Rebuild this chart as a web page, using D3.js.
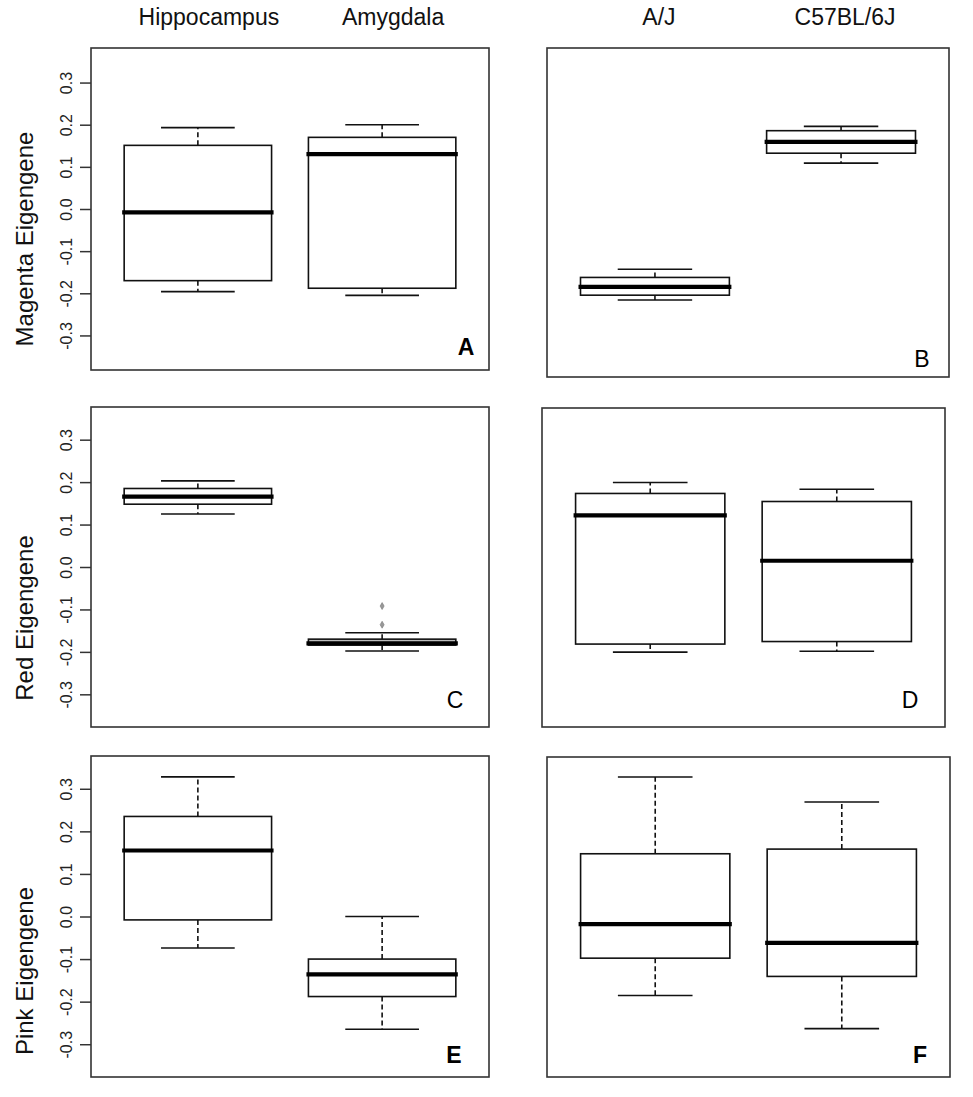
<!DOCTYPE html>
<html>
<head>
<meta charset="utf-8">
<script src="https://cdn.jsdelivr.net/npm/d3@7/dist/d3.min.js"></script>
<style>
body { margin: 0; background: #fff; }
svg { font-family: "Liberation Sans", Arial, sans-serif; }
</style>
</head>
<body>
<svg id="mainSvg" width="973" height="1097"></svg>
<script>
// group names
var tissueGroups = ["Hippocampus", "Amygdala"];
var strainGroups = ["A/J", "C57BL/6J"];

// box stats per group: [lower whisker, Q1, median, Q3, upper whisker]
var magentaTissue = [[-0.196, -0.170, -0.008, 0.151, 0.193], [-0.205, -0.188, 0.130, 0.170, 0.200]];
var magentaStrain = [[-0.202, -0.191, -0.172, -0.150, -0.131], [0.114, 0.137, 0.163, 0.189, 0.199]];
var redTissue = [[0.125, 0.148, 0.166, 0.185, 0.203], [-0.198, -0.184, -0.180, -0.170, -0.155]];
var redStrain = [[-0.200, -0.181, 0.123, 0.175, 0.201], [-0.198, -0.175, 0.016, 0.156, 0.185]];
var pinkTissue = [[-0.074, -0.008, 0.155, 0.235, 0.328], [-0.265, -0.188, -0.136, -0.100, 0.000]];
var pinkStrain = [[-0.185, -0.097, -0.017, 0.149, 0.330], [-0.263, -0.140, -0.061, 0.160, 0.271]];

// outliers (panel C, Amygdala)
var redTissueOutliers = [[], [-0.136, -0.092]];

var yTicks = [-0.3, -0.2, -0.1, 0.0, 0.1, 0.2, 0.3];
var yTitles = ["Magenta Eigengene", "Red Eigengene", "Pink Eigengene"];
var panelLetters = ["A", "B", "C", "D", "E", "F"];

// layout of each panel frame
var panels = [
	{stats: magentaTissue, out: null, x0: 91, x1: 489, y0: 48, y1: 370, ext: 0.382, axis: true, title: 0, tc: 239, lx: 466, ly: 355, bold: true},
	{stats: magentaStrain, out: null, x0: 547, x1: 949, y0: 48, y1: 377, ext: 0.380, axis: false, lx: 922, ly: 367, bold: false},
	{stats: redTissue, out: redTissueOutliers, x0: 91, x1: 489, y0: 407, y1: 727, ext: 0.377, axis: true, title: 1, tc: 618, lx: 455, ly: 708, bold: false, grey: 1},
	{stats: redStrain, out: null, x0: 542, x1: 945, y0: 408, y1: 727, ext: 0.377, axis: false, lx: 910, ly: 708, bold: false},
	{stats: pinkTissue, out: null, x0: 91, x1: 489, y0: 756, y1: 1077, ext: 0.377, axis: true, title: 2, tc: 971, lx: 454, ly: 1063, bold: true},
	{stats: pinkStrain, out: null, x0: 547, x1: 950, y0: 757, y1: 1077, ext: 0.377, axis: false, lx: 920, ly: 1063, bold: true}
];

var mainSvg = d3.select("#mainSvg");
var ink = "#111";

panels.forEach(function(p, pi) {
	var x = d3.scaleLinear().domain([0.42, 2.58]).range([p.x0, p.x1]);
	var y = d3.scaleLinear().domain([-p.ext, p.ext]).range([p.y1, p.y0]);
	var g = mainSvg.append("g");
	var bw = x(1.4) - x(1);   // half box width
	var cw = bw / 2;           // half cap width

	var box = g.selectAll("g.box").data(p.stats).enter().append("g").attr("class", "box");
	// whiskers
	box.append("line")
		.attr("x1", function(d, i) { return x(i + 1); }).attr("x2", function(d, i) { return x(i + 1); })
		.attr("y1", function(d) { return y(d[3]); }).attr("y2", function(d) { return y(d[4]); })
		.attr("stroke", ink).attr("stroke-width", 1.6).attr("stroke-dasharray", "5,3");
	box.append("line")
		.attr("x1", function(d, i) { return x(i + 1); }).attr("x2", function(d, i) { return x(i + 1); })
		.attr("y1", function(d) { return y(d[1]); }).attr("y2", function(d) { return y(d[0]); })
		.attr("stroke", ink).attr("stroke-width", 1.6).attr("stroke-dasharray", "5,3");
	// caps
	[0, 4].forEach(function(k) {
		box.append("line")
			.attr("x1", function(d, i) { return x(i + 1) - cw; }).attr("x2", function(d, i) { return x(i + 1) + cw; })
			.attr("y1", function(d) { return y(d[k]); }).attr("y2", function(d) { return y(d[k]); })
			.attr("stroke", ink).attr("stroke-width", 1.6);
	});
	// box
	box.append("rect")
		.attr("x", function(d, i) { return x(i + 1) - bw; })
		.attr("width", 2 * bw)
		.attr("y", function(d) { return y(d[3]); })
		.attr("height", function(d) { return y(d[1]) - y(d[3]); })
		.attr("fill", function(d, i) { return p.grey === i ? "#bdbdbd" : "#fff"; })
		.attr("stroke", ink).attr("stroke-width", 1.6);
	// median
	box.append("line")
		.attr("x1", function(d, i) { return x(i + 1) - bw - 2; }).attr("x2", function(d, i) { return x(i + 1) + bw + 2; })
		.attr("y1", function(d) { return y(d[2]); }).attr("y2", function(d) { return y(d[2]); })
		.attr("stroke", "#000").attr("stroke-width", 4.2);

	if (p.out) {
		p.out.forEach(function(vals, i) {
			g.selectAll(null).data(vals).enter().append("path")
				.attr("d", d3.symbol(d3.symbolDiamond, 14))
				.attr("transform", function(v) { return "translate(" + x(i + 1) + "," + y(v) + ")"; })
				.attr("fill", "#999").attr("stroke", "#777").attr("stroke-width", 0.6);
		});
	}

	// frame
	g.append("rect").attr("x", p.x0).attr("y", p.y0)
		.attr("width", p.x1 - p.x0).attr("height", p.y1 - p.y0)
		.attr("fill", "none").attr("stroke", "#333").attr("stroke-width", 1.6);

	if (p.axis) {
		var ax = g.append("g").attr("transform", "translate(" + p.x0 + ",0)")
			.call(d3.axisLeft(y).tickValues(yTicks).tickSize(11).tickFormat(function(d) { return d.toFixed(1); }));
		ax.select(".domain").remove();
		ax.selectAll(".tick line").attr("stroke", "#333").attr("stroke-width", 1.5);
		ax.selectAll(".tick text")
			.attr("transform", "rotate(-90)")
			.attr("x", 0).attr("y", -19).attr("dy", 0)
			.attr("text-anchor", "middle")
			.attr("font-size", 16).attr("fill", "#222")
			.attr("font-family", "Liberation Sans, Arial, sans-serif");
		mainSvg.append("text")
			.attr("transform", "translate(33," + p.tc + ") rotate(-90)")
			.attr("text-anchor", "middle").attr("font-size", 24).attr("fill", "#111")
			.text(yTitles[p.title]);
	}

	mainSvg.append("text").attr("x", p.lx).attr("y", p.ly)
		.attr("text-anchor", "middle").attr("font-size", 23)
		.attr("font-weight", p.bold ? "bold" : "normal").attr("fill", "#000")
		.text(panelLetters[pi]);
});

// column headers
var heads = [
	{names: tissueGroups, p: panels[0]},
	{names: strainGroups, p: panels[1]}
];
heads.forEach(function(h) {
	var x = d3.scaleLinear().domain([0.42, 2.58]).range([h.p.x0, h.p.x1]);
	mainSvg.selectAll(null).data(h.names).enter().append("text")
		.attr("x", function(d, i) { return x(i + 1) + (h.names === tissueGroups ? 11 : 4); })
		.attr("y", 25)
		.attr("text-anchor", "middle").attr("font-size", 23).attr("fill", "#111")
		.text(function(d) { return d; });
});
</script>
</body>
</html>
